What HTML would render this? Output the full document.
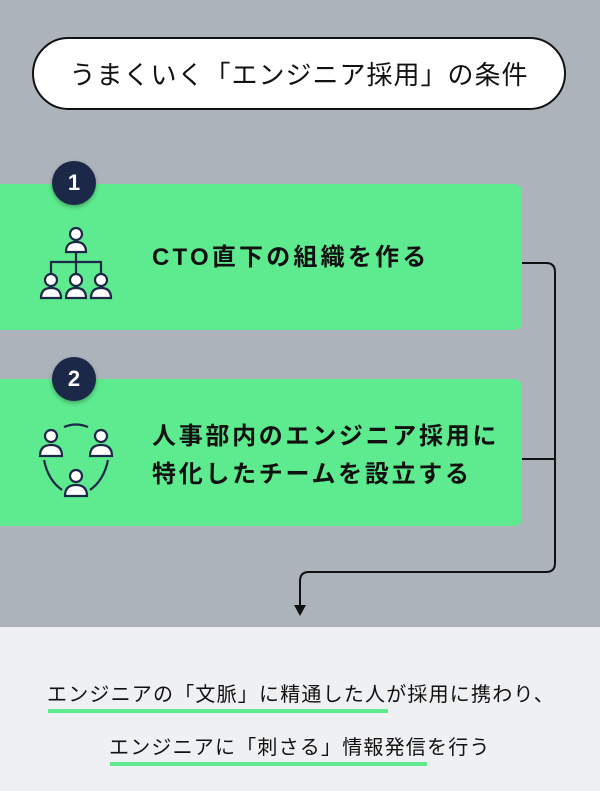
<!DOCTYPE html>
<html><head><meta charset="utf-8"><style>
body{margin:0;width:600px;height:791px;overflow:hidden;background:#adb3ba;font-family:"Liberation Sans","Noto Sans CJK JP",sans-serif;position:relative}
.pill{position:absolute;left:32px;top:37px;width:534px;height:73px;background:#fff;border:2px solid #111;border-radius:38px;box-sizing:border-box;display:flex;align-items:center;justify-content:center;font-size:26px;color:#111;letter-spacing:1px}
.card{position:absolute;left:0;width:522px;background:#5eea8e;border-radius:0 8px 8px 0}
.num{position:absolute;left:52px;width:44px;height:44px;border-radius:50%;background:#1c2848;color:#fff;font-size:22px;font-weight:bold;display:flex;align-items:center;justify-content:center;box-shadow:0 2px 4px rgba(0,0,0,.3)}
.t{position:absolute;left:152px;font-size:24px;font-weight:bold;color:#111;line-height:38px;white-space:nowrap}
.bottom{position:absolute;left:0;top:627px;width:600px;height:164px;background:#eff0f2}
.l{position:absolute;font-size:20px;color:#111;white-space:nowrap;letter-spacing:1.2px}
.u{position:absolute;height:4px;background:#5eea8e}
</style></head><body>
<div class="pill">うまくいく「エンジニア採用」の条件</div>
<svg style="position:absolute;left:0;top:0" width="600" height="627">
<path d="M522 263 H546 Q555 263 555 272 V563 Q555 572 546 572 H309 Q300 572 300 581 V606" fill="none" stroke="#111" stroke-width="2"/>
<path d="M522 459 H555" stroke="#111" stroke-width="2"/>
<path d="M294 605 L306 605 L300 616 Z" fill="#111"/>
</svg>
<div class="card" style="top:184px;height:146px"></div>
<div class="card" style="top:379px;height:147px"></div>
<div class="num" style="top:161px">1</div>
<div class="num" style="top:357px">2</div>
<svg style="position:absolute;left:36px;top:225px" width="80" height="76" viewBox="0 0 80 76" fill="#fff" stroke="#1c2848" stroke-width="2.2">
<circle cx="40" cy="9" r="6"/><path d="M30 27 Q30 17 40 17 Q50 17 50 27 Z"/>
<path d="M40 27 V48 M15 48 V37 H65 V48" fill="none"/>
<g><circle cx="15" cy="55" r="6"/><path d="M5 73 Q5 63 15 63 Q25 63 25 73 Z"/></g>
<g><circle cx="40" cy="55" r="6"/><path d="M30 73 Q30 63 40 63 Q50 63 50 73 Z"/></g>
<g><circle cx="65" cy="55" r="6"/><path d="M55 73 Q55 63 65 63 Q75 63 75 73 Z"/></g>
</svg>
<svg style="position:absolute;left:36px;top:420px" width="80" height="82" viewBox="0 0 80 82" fill="#fff" stroke="#1c2848" stroke-width="2.2">
<path d="M28 7 Q40 2 52 7" fill="none"/>
<path d="M8 40 Q12 60 26 70 M72 40 Q68 60 54 70" fill="none"/>
<g><circle cx="15" cy="16" r="6"/><path d="M4 36 Q4 25 15 25 Q26 25 26 36 Z"/></g>
<g><circle cx="65" cy="16" r="6"/><path d="M54 36 Q54 25 65 25 Q76 25 76 36 Z"/></g>
<g><circle cx="40" cy="56" r="6"/><path d="M29 76 Q29 65 40 65 Q51 65 51 76 Z"/></g>
</svg>
<div class="t" style="top:239px;letter-spacing:3.2px">CTO直下の組織を作る</div>
<div class="t" style="top:418px;letter-spacing:2.7px">人事部内のエンジニア採用に<br>特化したチームを設立する</div>
<div class="bottom"></div>
<div class="u" style="left:48px;top:709px;width:340px"></div>
<div class="u" style="left:110px;top:762px;width:317px"></div>
<div class="l" style="left:47px;top:678px">エンジニアの「文脈」に精通した人が採用に携わり、</div>
<div class="l" style="left:109px;top:731px">エンジニアに「刺さる」情報発信を行う</div>
</body></html>
